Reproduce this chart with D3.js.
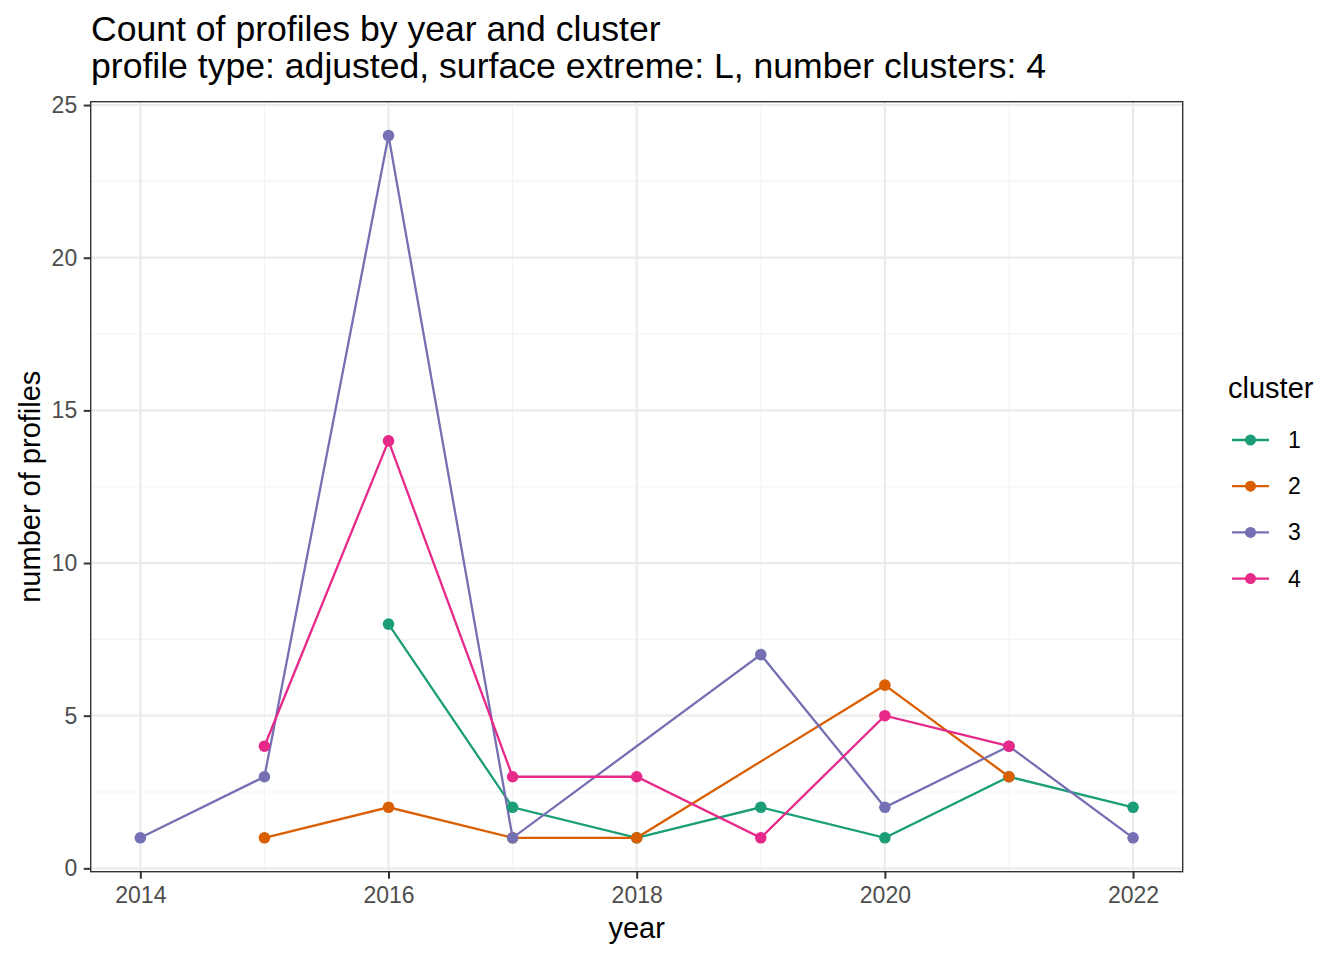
<!DOCTYPE html>
<html><head><meta charset="utf-8">
<script src="https://cdn.jsdelivr.net/npm/d3@7"></script>
<style>body{margin:0;background:#fff;} svg{display:block;font-family:"Liberation Sans",Arial,sans-serif;}</style>
</head><body><svg id="c" width="1344" height="960"></svg>
<script>
const clusters = ["1","2","3","4"];
const colors = ["#1B9E77","#D95F02","#7570B3","#E7298A"];
const series1 = [[2016,8],[2017,2],[2018,1],[2019,2],[2020,1],[2021,3],[2022,2]];
const series2 = [[2015,1],[2016,2],[2017,1],[2018,1],[2020,6],[2021,3]];
const series3 = [[2014,1],[2015,3],[2016,24],[2017,1],[2019,7],[2020,2],[2021,4],[2022,1]];
const series4 = [[2015,4],[2016,14],[2017,3],[2018,3],[2019,1],[2020,5],[2021,4]];
const xTicks = [2014,2016,2018,2020,2022];
const xMinor = [2015,2017,2019,2021];
const yTicks = [0,5,10,15,20,25];
const yMinor = [2.5,7.5,12.5,17.5,22.5];
const allSeries = [series1,series2,series3,series4];

const svg = d3.select("#c");
const L=90.7, R=1182.7, T=101.7, B=871.7;
const x = d3.scaleLinear().domain([2013.6,2022.4]).range([L,R]);
const y = d3.scaleLinear().domain([-0.11,25.11]).range([B,T]);

const g = svg.append("g");
// minor grid
g.selectAll(".mx").data(xMinor).join("line").attr("x1",d=>x(d)).attr("x2",d=>x(d)).attr("y1",T).attr("y2",B).attr("stroke","#F3F3F3").attr("stroke-width",1.1);
g.selectAll(".my").data(yMinor).join("line").attr("y1",d=>y(d)).attr("y2",d=>y(d)).attr("x1",L).attr("x2",R).attr("stroke","#F3F3F3").attr("stroke-width",1.1);
// major grid
g.selectAll(".gx").data(xTicks).join("line").attr("x1",d=>x(d)).attr("x2",d=>x(d)).attr("y1",T).attr("y2",B).attr("stroke","#EBEBEB").attr("stroke-width",2.2);
g.selectAll(".gy").data(yTicks).join("line").attr("y1",d=>y(d)).attr("y2",d=>y(d)).attr("x1",L).attr("x2",R).attr("stroke","#EBEBEB").attr("stroke-width",2.2);

// lines
const line = d3.line().x(d=>x(d[0])).y(d=>y(d[1]));
allSeries.forEach((s,i)=>{
  g.append("path").datum(s).attr("d",line).attr("fill","none").attr("stroke",colors[i]).attr("stroke-width",2.3);
});
allSeries.forEach((s,i)=>{
  g.selectAll(null).data(s).join("circle").attr("cx",d=>x(d[0])).attr("cy",d=>y(d[1])).attr("r",5.8).attr("fill",colors[i]);
});

// panel border
svg.append("rect").attr("x",L).attr("y",T).attr("width",R-L).attr("height",B-T).attr("fill","none").attr("stroke","#333333").attr("stroke-width",1.4);

// axes
const xa = svg.append("g").attr("transform",`translate(0,${B})`).call(d3.axisBottom(x).tickValues(xTicks).tickFormat(d3.format("d")).tickSize(7).tickPadding(8));
const ya = svg.append("g").attr("transform",`translate(${L},0)`).call(d3.axisLeft(y).tickValues(yTicks).tickSize(7).tickPadding(6.5));
[xa,ya].forEach(a=>{
  a.select(".domain").remove();
  a.selectAll(".tick line").attr("stroke","#333333").attr("stroke-width",2);
  a.selectAll(".tick text").attr("fill","#4D4D4D").style("font-size","23px").style("font-family","'Liberation Sans',Arial,sans-serif");
});

// titles
svg.append("text").attr("x",91).attr("y",41).style("font-size","35.6px").attr("fill","#000").text("Count of profiles by year and cluster");
svg.append("text").attr("x",91).attr("y",78).style("font-size","35.6px").attr("fill","#000").text("profile type: adjusted, surface extreme: L, number clusters: 4");
svg.append("text").attr("x",(L+R)/2).attr("y",938).attr("text-anchor","middle").style("font-size","29px").text("year");
svg.append("text").attr("transform",`translate(39.5,${(T+B)/2}) rotate(-90)`).attr("text-anchor","middle").style("font-size","29px").text("number of profiles");

// legend
svg.append("text").attr("x",1228).attr("y",398).style("font-size","29px").text("cluster");
clusters.forEach((c,i)=>{
  const yy = 440 + i*46.2;
  svg.append("line").attr("x1",1232).attr("x2",1269).attr("y1",yy).attr("y2",yy).attr("stroke",colors[i]).attr("stroke-width",2.3);
  svg.append("circle").attr("cx",1250.5).attr("cy",yy).attr("r",5.5).attr("fill",colors[i]);
  svg.append("text").attr("x",1288).attr("y",yy+8).style("font-size","23px").text(c);
});
</script></body></html>
